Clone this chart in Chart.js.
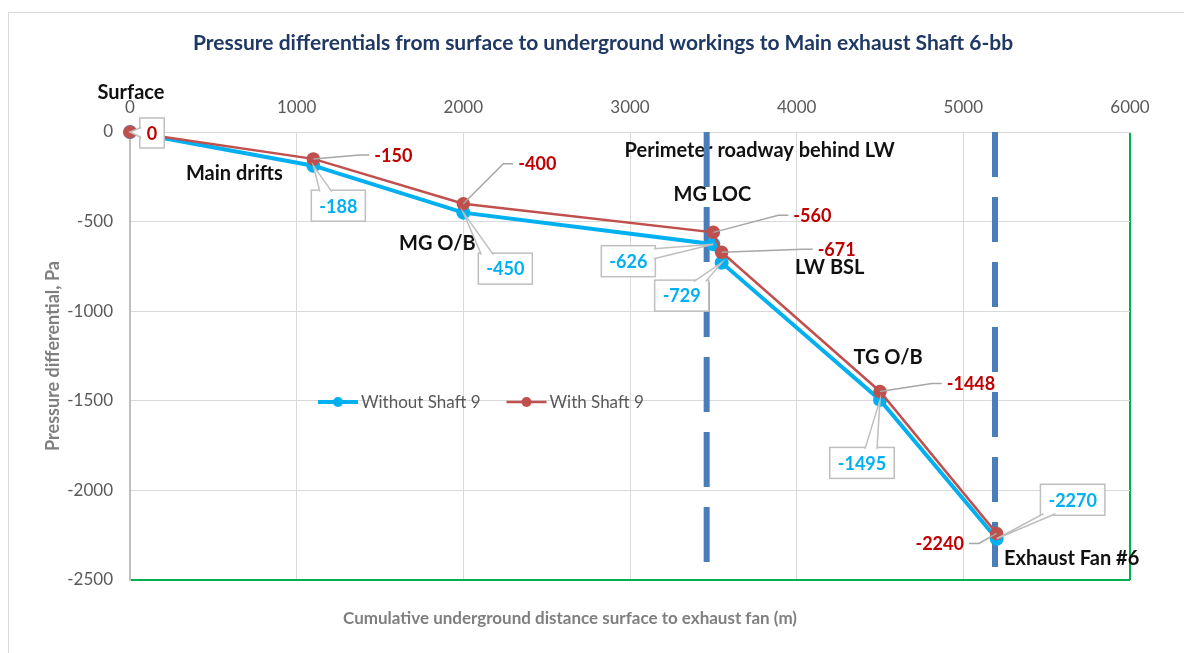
<!DOCTYPE html>
<html>
<head>
<meta charset="utf-8">
<script src="https://cdn.jsdelivr.net/npm/chart.js@4.4.1/dist/chart.umd.min.js"></script>
<style>
  body { margin: 0; background: #fff; }
  #wrap { position: relative; width: 1184px; height: 653px; }
  #frame { position: absolute; left: 8px; top: 12px; right: 0; bottom: 0; border-top: 1px solid #d9d9d9; border-left: 1px solid #d9d9d9; }
  canvas { position: absolute; left: 0; top: 0; }
</style>
</head>
<body>
<div id="wrap"><div id="frame"></div><canvas id="chart" width="1184" height="653"></canvas></div>
<script>
// data
const distances = [0, 1100, 2000, 3500, 3550, 4500, 5200]
const withoutShaft9 = [0, -188, -450, -626, -729, -1495, -2270]
const withShaft9 = [0, -150, -400, -560, -671, -1448, -2240]
const places = ['Surface', 'Main drifts', 'MG O/B', 'MG LOC', 'LW BSL', 'TG O/B', 'Exhaust Fan #6']
const dividerX = [3460, 5190]
const dividerBottom = [-2420, -2530]
const dividerLabel = 'Perimeter roadway behind LW'

// label placement (pixel offsets from the points)
const placeOffsets = [[1, -39], [-79, 8], [-26, 31], [-1, -50], [108, 5], [8, -42], [75, 20]]
const blueBoxOffsets = [null, [25, 40], [42, 56], [-85, 17], [-40, 33], [-18, 63], [76, -39]]
const redOffsets = [[22, 1], [80, -4], [74, -40], [99, -17], [115, -3], [91, -8], [-57, 10]]

const BLUE = '#00b0f0'
const RED = '#c0504d'
const RED_TXT = '#c00000'
const GRID = '#d9d9d9'
const GREEN = '#00b050'
const FONT = 'Lato'

const toPoints = (ys) => distances.map((x, i) => ({ x: x, y: ys[i] }))

function callout(ctx, px, py, cx, cy, w, h) {
  const l = cx - w / 2, t = cy - h / 2
  ctx.fillStyle = '#fff'
  ctx.strokeStyle = '#bfbfbf'
  ctx.lineWidth = 1.5
  ctx.fillRect(l, t, w, h)
  ctx.strokeRect(l, t, w, h)
  const dx = px - cx, dy = py - cy
  let b1, b2
  if (Math.abs(dy) / h > Math.abs(dx) / w) {
    const ey = dy > 0 ? t + h - 1.5 : t + 1.5
    const bx = Math.max(l + 9, Math.min(l + w - 9, cx + dx * 0.5))
    b1 = [bx - 6, ey]; b2 = [bx + 6, ey]
  } else {
    const ex = dx > 0 ? l + w - 1.5 : l + 1.5
    const by = Math.max(t + 8, Math.min(t + h - 8, cy + dy * 0.5))
    b1 = [ex, by - 5]; b2 = [ex, by + 5]
  }
  ctx.beginPath()
  ctx.moveTo(px, py); ctx.lineTo(b1[0], b1[1]); ctx.lineTo(b2[0], b2[1]); ctx.closePath()
  ctx.fill()
  ctx.beginPath()
  ctx.moveTo(b1[0], b1[1]); ctx.lineTo(px, py); ctx.lineTo(b2[0], b2[1])
  ctx.stroke()
}

const labelsPlugin = {
  id: 'labels',
  beforeDatasetsDraw(chart) {
    const ctx = chart.ctx
    const x = chart.scales.x, y = chart.scales.y
    ctx.save()
    ctx.fillStyle = '#111'
    ctx.font = `bold 20px ${FONT}`
    ctx.textAlign = 'center'
    ctx.textBaseline = 'middle'
    places.forEach((p, i) => {
      const px = x.getPixelForValue(distances[i]), py = y.getPixelForValue(withoutShaft9[i])
      ctx.fillText(p, px + placeOffsets[i][0], py + placeOffsets[i][1])
    })
    ctx.fillText(dividerLabel, x.getPixelForValue(dividerX[0]) + 53, y.getPixelForValue(0) + 19)
    ctx.restore()
  },
  afterDatasetsDraw(chart) {
    const ctx = chart.ctx
    const x = chart.scales.x, y = chart.scales.y
    const area = chart.chartArea
    ctx.save()
    ctx.font = `bold 18px ${FONT}`
    ctx.textAlign = 'center'
    ctx.textBaseline = 'middle'
    // red labels
    withShaft9.forEach((v, i) => {
      const px = x.getPixelForValue(distances[i]), py = y.getPixelForValue(v)
      const cx = px + redOffsets[i][0], cy = py + redOffsets[i][1]
      const w = ctx.measureText(String(v)).width
      if (i === 0) {
        callout(ctx, px, py, cx, cy, w + 14, 30)
      } else {
        const side = cx > px ? cx - w / 2 - 5 : cx + w / 2 + 5
        const elbow = cx > px ? side - 10 : side + 10
        ctx.strokeStyle = '#a6a6a6'
        ctx.lineWidth = 1.5
        ctx.beginPath()
        ctx.moveTo(px, py); ctx.lineTo(elbow, cy); ctx.lineTo(side, cy)
        ctx.stroke()
      }
      ctx.fillStyle = RED_TXT
      ctx.fillText(String(v), cx, cy + 1)
    })
    // blue boxed labels
    withoutShaft9.forEach((v, i) => {
      if (!blueBoxOffsets[i]) return
      const px = x.getPixelForValue(distances[i]), py = y.getPixelForValue(v)
      const cx = px + blueBoxOffsets[i][0], cy = py + blueBoxOffsets[i][1]
      const w = ctx.measureText(String(v)).width
      callout(ctx, px, py, cx, cy, w + 16, 31)
      ctx.fillStyle = BLUE
      ctx.fillText(String(v), cx, cy + 1)
    })
    // legend inside the plot
    const lx = area.left + 188, ly = area.top + 270
    ctx.font = `17px ${FONT}`
    ctx.textAlign = 'left'
    let cur = lx
    chart.data.datasets.slice(0, 2).forEach(ds => {
      ctx.strokeStyle = ds.borderColor
      ctx.lineWidth = ds.borderWidth
      ctx.beginPath(); ctx.moveTo(cur, ly); ctx.lineTo(cur + 40, ly); ctx.stroke()
      ctx.fillStyle = ds.borderColor
      ctx.beginPath(); ctx.arc(cur + 20, ly, 5, 0, Math.PI * 2); ctx.fill()
      ctx.fillStyle = '#595959'
      ctx.fillText(ds.label, cur + 43, ly + 1)
      cur += 43 + ctx.measureText(ds.label).width + 26
    })
    ctx.restore()
  },
  afterDraw(chart) {
    const ctx = chart.ctx
    ctx.save()
    ctx.textAlign = 'center'
    ctx.textBaseline = 'middle'
    ctx.fillStyle = '#1f3864'
    ctx.font = `bold 21px ${FONT}`
    ctx.fillText('Pressure differentials from surface to underground workings to Main exhaust Shaft 6-bb', 603, 43)
    ctx.fillStyle = '#7f7f7f'
    ctx.font = `bold 17px ${FONT}`
    ctx.fillText('Cumulative underground distance surface to exhaust fan (m)', 570, 619)
    ctx.restore()
  }
}

const datasets = [
  {
    label: 'Without Shaft 9',
    data: toPoints(withoutShaft9),
    borderColor: BLUE,
    backgroundColor: BLUE,
    borderWidth: 4,
    pointRadius: 5,
    clip: false,
    order: 1
  },
  {
    label: 'With Shaft 9',
    data: toPoints(withShaft9),
    borderColor: RED,
    backgroundColor: RED,
    borderWidth: 2.5,
    pointRadius: 5.5,
    clip: false,
    order: 0
  }
]
dividerX.forEach((dx, i) => {
  datasets.push({
    label: 'divider' + i,
    data: [{ x: dx, y: 0 }, { x: dx, y: dividerBottom[i] }],
    borderColor: '#4a7ebb',
    borderWidth: 6,
    borderDash: i === 0 ? [55, 20] : [45, 20],
    pointRadius: 0,
    clip: false,
    order: 2
  })
})

const plain = v => String(v)

const ctx = document.getElementById('chart').getContext('2d')
const myChart = new Chart(ctx, {
  type: 'line',
  data: { datasets: datasets },
  options: {
    responsive: false,
    animation: false,
    layout: { padding: { left: 0, top: 0, right: 54, bottom: 73 } },
    elements: { line: { tension: 0 } },
    scales: {
      x: {
        type: 'linear',
        position: 'top',
        min: 0,
        max: 6000,
        ticks: { stepSize: 1000, callback: plain, color: '#595959', font: { family: FONT, size: 17 }, padding: 14 },
        grid: {
          drawTicks: false,
          color: c => c.tick && c.tick.value === 6000 ? GREEN : GRID,
          lineWidth: c => c.tick && c.tick.value === 6000 ? 2 : 1
        },
        border: { color: GRID },
        afterFit: s => { s.height = 132 }
      },
      y: {
        min: -2500,
        max: 0,
        ticks: { stepSize: 500, callback: plain, color: '#595959', font: { family: FONT, size: 17 }, padding: 17 },
        grid: {
          drawTicks: false,
          color: c => c.tick && c.tick.value === -2500 ? GREEN : GRID,
          lineWidth: c => c.tick && c.tick.value === -2500 ? 2 : 1
        },
        border: { color: '#bfbfbf', width: 2 },
        title: {
          display: true,
          text: 'Pressure differential, Pa',
          color: '#7f7f7f',
          font: { family: FONT, size: 18, weight: 'bold' },
          padding: { top: 42 }
        },
        afterFit: s => { s.width = 130 }
      }
    },
    plugins: {
      legend: { display: false },
      title: { display: false },
      tooltip: { enabled: false }
    }
  },
  plugins: [labelsPlugin]
})
</script>
</body>
</html>
